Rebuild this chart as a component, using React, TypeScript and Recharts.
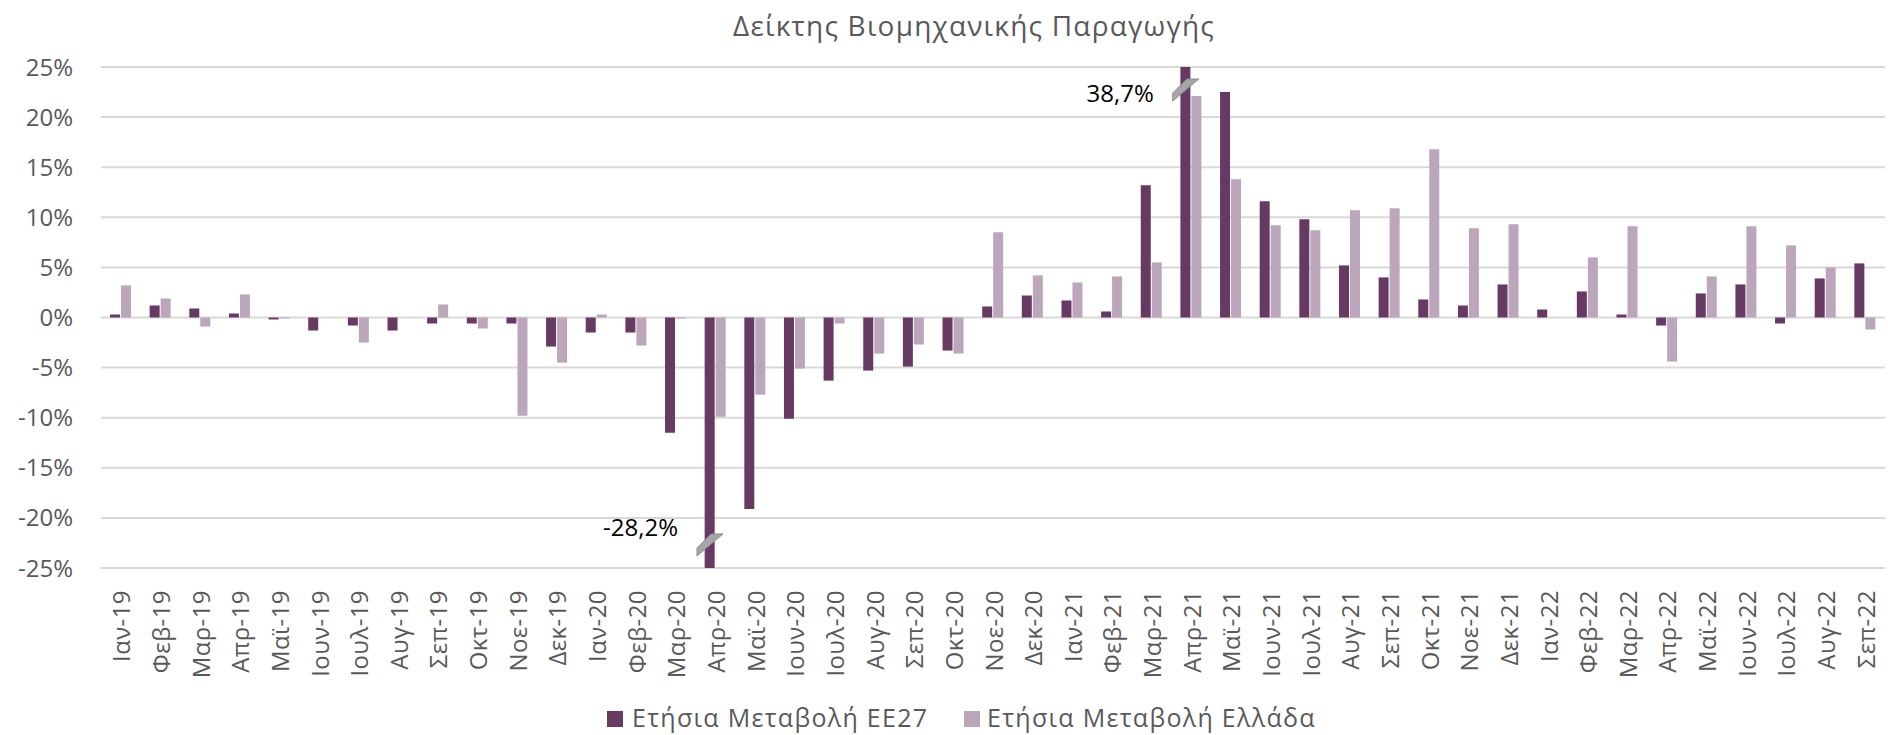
import React from 'react';
import {
    BarChart,
    Bar,
    XAxis,
    YAxis,
    CartesianGrid,
    ReferenceDot
} from 'recharts';

const months = [
    'Ιαν-19', 'Φεβ-19', 'Μαρ-19', 'Απρ-19', 'Μαϊ-19', 'Ιουν-19', 'Ιουλ-19', 'Αυγ-19', 'Σεπ-19', 'Οκτ-19', 'Νοε-19', 'Δεκ-19',
    'Ιαν-20', 'Φεβ-20', 'Μαρ-20', 'Απρ-20', 'Μαϊ-20', 'Ιουν-20', 'Ιουλ-20', 'Αυγ-20', 'Σεπ-20', 'Οκτ-20', 'Νοε-20', 'Δεκ-20',
    'Ιαν-21', 'Φεβ-21', 'Μαρ-21', 'Απρ-21', 'Μαϊ-21', 'Ιουν-21', 'Ιουλ-21', 'Αυγ-21', 'Σεπ-21', 'Οκτ-21', 'Νοε-21', 'Δεκ-21',
    'Ιαν-22', 'Φεβ-22', 'Μαρ-22', 'Απρ-22', 'Μαϊ-22', 'Ιουν-22', 'Ιουλ-22', 'Αυγ-22', 'Σεπ-22'
];

// ετήσια μεταβολή ΕΕ27 (%)
const eu27 = [
    0.3, 1.2, 0.9, 0.4, -0.2, -1.3, -0.8, -1.3, -0.6, -0.6, -0.6, -2.9,
    -1.5, -1.5, -11.5, -28.2, -19.1, -10.1, -6.3, -5.3, -4.9, -3.3, 1.1, 2.2,
    1.7, 0.6, 13.2, 38.7, 22.5, 11.6, 9.8, 5.2, 4.0, 1.8, 1.2, 3.3,
    0.8, 2.6, 0.3, -0.8, 2.4, 3.3, -0.6, 3.9, 5.4
];

// ετήσια μεταβολή Ελλάδα (%)
const greece = [
    3.2, 1.9, -0.9, 2.3, -0.1, 0, -2.5, 0, 1.3, -1.1, -9.8, -4.5,
    0.3, -2.8, -0.1, -9.9, -7.7, -5.1, -0.6, -3.6, -2.7, -3.6, 8.5, 4.2,
    3.5, 4.1, 5.5, 22.1, 13.8, 9.2, 8.7, 10.7, 10.9, 16.8, 8.9, 9.3,
    0, 6.0, 9.1, -4.4, 4.1, 9.1, 7.2, 5.0, -1.2
];

const yTicks = [-25, -20, -15, -10, -5, 0, 5, 10, 15, 20, 25];
const Y_MIN = -25;
const Y_MAX = 25;
const BREAK_AT = 22.7;

const TITLE = 'Δείκτης Βιομηχανικής Παραγωγής';
const EU_NAME = 'Ετήσια Μεταβολή ΕΕ27';
const GR_NAME = 'Ετήσια Μεταβολή Ελλάδα';

const EU_COLOR = '#673A64';
const GR_COLOR = '#BBA6BB';
const TEXT = '#595959';
const FONT = '"Open Sans", "Noto Sans", sans-serif';

const data = months.map((m, i) => ({ month: m, eu: eu27[i], gr: greece[i] }));

// τιμές εκτός κλίμακας -> σημάδι διακοπής
const breaks = data.filter(d => d.eu > Y_MAX || d.eu < Y_MIN);

const BAR = 10;
const GAP = 1;

const fmt = (v: number) => `${v.toFixed(1).replace('.', ',')}%`;

const XTick = ({ x, y, payload }: any) => (
    <text
        x={x}
        y={y}
        transform={`rotate(-90 ${x} ${y})`}
        textAnchor="end"
        dominantBaseline="central"
        fill={TEXT}
        fontSize={24}
        letterSpacing={0.4}
        fontFamily={FONT}
    >
        {payload.value}
    </text>
);

const BreakMark = (value: number) => (props: any) => {
    const cx = props.cx - (BAR + GAP) / 2;
    const cy = props.cy;
    const up = value > 0;
    return (
        <g>
            <polygon
                points={`${cx - 13},${cy + 11} ${cx - 13},${cy + 3} ${cx + 1},${cy - 11} ${cx + 13},${cy - 11}`}
                fill="#A6A6A6"
                stroke="#8C8C8C"
                strokeWidth={1}
            />
            <text
                x={cx - 32}
                y={up ? cy + 2 : cy - 18}
                textAnchor="end"
                dominantBaseline="central"
                fill="#000"
                fontSize={24}
                fontFamily={FONT}
            >
                {fmt(value)}
            </text>
        </g>
    );
};

export default function App() {
    return (
        <div style={{ position: 'absolute', left: 0, top: 0, width: 1888, height: 735, background: '#fff' }}>
            <BarChart
                width={1888}
                height={735}
                data={data}
                margin={{ top: 67, right: 3, bottom: 0, left: 0 }}
                barSize={BAR}
                barGap={GAP}
            >
                <CartesianGrid vertical={false} stroke="#D9D9D9" strokeWidth={2} />
                <XAxis
                    dataKey="month"
                    interval={0}
                    height={167}
                    axisLine={false}
                    tickLine={false}
                    tickSize={0}
                    tickMargin={22}
                    tick={<XTick />}
                />
                <YAxis
                    domain={[Y_MIN, Y_MAX]}
                    ticks={yTicks}
                    allowDataOverflow
                    width={101}
                    axisLine={false}
                    tickLine={false}
                    tickSize={0}
                    tickMargin={28}
                    tickFormatter={(v) => `${v}%`}
                    tick={{ fill: TEXT, fontSize: 24, fontFamily: FONT }}
                />
                <Bar dataKey="eu" name={EU_NAME} fill={EU_COLOR} isAnimationActive={false} />
                <Bar dataKey="gr" name={GR_NAME} fill={GR_COLOR} isAnimationActive={false} />
                {breaks.map(b => (
                    <ReferenceDot
                        key={b.month}
                        x={b.month}
                        y={b.eu > 0 ? BREAK_AT : -BREAK_AT}
                        shape={BreakMark(b.eu)}
                    />
                ))}
            </BarChart>
            <svg width={1888} height={735} style={{ position: 'absolute', left: 0, top: 0, pointerEvents: 'none' }}>
                <text x={974} y={36} textAnchor="middle" fill={TEXT} fontSize={28} letterSpacing={1.2} fontFamily={FONT}>
                    {TITLE}
                </text>
                <rect x={607} y={711} width={16} height={16} fill={EU_COLOR} />
                <text x={632} y={727} fill={TEXT} fontSize={25} letterSpacing={1.3} fontFamily={FONT}>
                    {EU_NAME}
                </text>
                <rect x={964} y={711} width={16} height={16} fill={GR_COLOR} />
                <text x={987} y={727} fill={TEXT} fontSize={25} letterSpacing={1.3} fontFamily={FONT}>
                    {GR_NAME}
                </text>
            </svg>
        </div>
    );
}
